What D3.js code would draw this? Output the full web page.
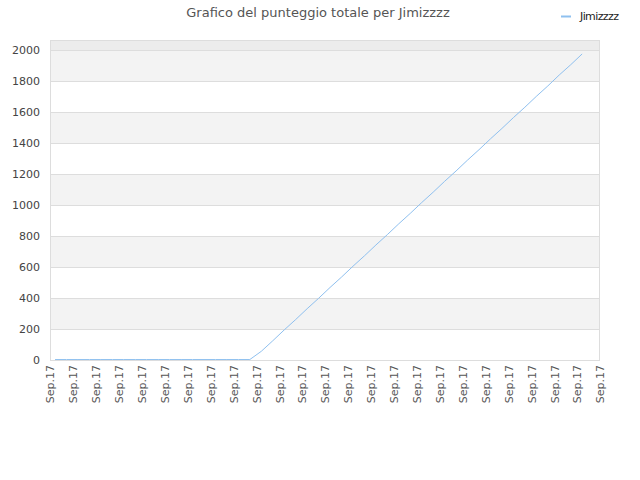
<!DOCTYPE html>
<html>
<head>
<meta charset="utf-8">
<script src="https://cdn.jsdelivr.net/npm/d3@7"></script>
<style>
	body { margin: 0; background: #fff; }
	svg { font-family: "DejaVu Sans", sans-serif; }
</style>
</head>
<body>
<div id="chart"></div>
<script>
'use strict';

const TITLE = "Grafico del punteggio totale per Jimizzzz";
const SERIES_NAME = "Jimizzzz";

// 25 date labels along the x axis
const tickLabels = [
	"Sep.17", "Sep.17", "Sep.17", "Sep.17", "Sep.17", "Sep.17", "Sep.17", "Sep.17", "Sep.17",
	"Sep.17", "Sep.17", "Sep.17", "Sep.17", "Sep.17", "Sep.17", "Sep.17", "Sep.17", "Sep.17",
	"Sep.17", "Sep.17", "Sep.17", "Sep.17", "Sep.17", "Sep.17", "Sep.17"
];
const yTicks = [0, 200, 400, 600, 800, 1000, 1200, 1400, 1600, 1800, 2000];

// total score, sampled every half label step
const scores = [
	3, 3, 3, 3, 3, 3, 3, 3, 3, 3, 3, 3, 3, 3, 3, 3, 3, 3,
	56, 124, 194, 261, 331, 398, 468, 535, 605, 672, 742, 809, 879, 946,
	1016, 1083, 1153, 1220, 1290, 1357, 1427, 1494, 1564, 1631, 1701, 1768, 1839, 1905, 1975
];
const FIRST_POS = 0.22;
const POS_STEP = 0.5;

const W = 640, H = 480;
const margin = {top: 40, right: 40, bottom: 120, left: 50};

const svg = d3.select("#chart").append("svg")
	.attr("width", W)
	.attr("height", H);

const x = d3.scaleLinear()
	.domain([0, tickLabels.length - 1])
	.range([margin.left, W - margin.right]);

const y = d3.scaleLinear()
	.domain([0, 2065])
	.range([H - margin.bottom, margin.top]);

// background bands
const plotW = x.range()[1] - x.range()[0];
svg.append("rect")
	.attr("x", margin.left).attr("y", margin.top)
	.attr("width", plotW).attr("height", y(2000) - margin.top)
	.attr("fill", "#ececec");
for (let i = 0; i < yTicks.length - 1; i++) {
	svg.append("rect")
		.attr("x", margin.left)
		.attr("y", y(yTicks[i + 1]))
		.attr("width", plotW)
		.attr("height", y(yTicks[i]) - y(yTicks[i + 1]))
		.attr("fill", i % 2 === 1 ? "#f3f3f3" : "#ffffff");
}

// grid lines
svg.append("g")
	.selectAll("line")
	.data(yTicks)
	.join("line")
		.attr("x1", margin.left)
		.attr("x2", W - margin.right)
		.attr("y1", d => Math.round(y(d)) + 0.5)
		.attr("y2", d => Math.round(y(d)) + 0.5)
		.attr("stroke", "#dddddd");

// plot border
svg.append("rect")
	.attr("x", margin.left + 0.5)
	.attr("y", margin.top + 0.5)
	.attr("width", plotW - 1)
	.attr("height", y(0) - margin.top)
	.attr("fill", "none")
	.attr("stroke", "#dddddd");

// y axis
const yAxis = svg.append("g")
	.attr("transform", `translate(${margin.left},0)`)
	.call(d3.axisLeft(y).tickValues(yTicks).tickFormat(d3.format("d")).tickSize(0).tickPadding(10));
yAxis.select(".domain").remove();
yAxis.selectAll("text")
	.attr("font-size", 11)
	.attr("font-family", "DejaVu Sans, sans-serif")
	.attr("fill", "#444");

// x axis
const xAxis = svg.append("g")
	.attr("transform", `translate(0,${y(0)})`)
	.call(d3.axisBottom(x)
		.tickValues(d3.range(tickLabels.length))
		.tickFormat(i => tickLabels[i])
		.tickSize(0));
xAxis.select(".domain").remove();
xAxis.selectAll("text")
	.attr("font-size", 11)
	.attr("font-family", "DejaVu Sans, sans-serif")
	.attr("fill", "#555")
	.attr("text-anchor", "end")
	.attr("transform", "rotate(-90)")
	.attr("x", -5)
	.attr("y", 0)
	.attr("dy", "0.35em");

// the series
const line = d3.line()
	.x((d, i) => x(FIRST_POS + i * POS_STEP))
	.y(d => y(d));

svg.append("path")
	.datum(scores)
	.attr("fill", "none")
	.attr("stroke", "#8fc0ef")
	.attr("stroke-width", 1)
	.attr("d", line);

// title
svg.append("text")
	.attr("x", 318)
	.attr("y", 17)
	.attr("text-anchor", "middle")
	.attr("font-size", 13)
	.attr("fill", "#555")
	.text(TITLE);

// legend
svg.append("line")
	.attr("x1", 561).attr("x2", 571)
	.attr("y1", 16.5).attr("y2", 16.5)
	.attr("stroke", "#8fc0ef")
	.attr("stroke-width", 2);
svg.append("text")
	.attr("x", 580)
	.attr("y", 20)
	.attr("font-size", 11)
	.attr("fill", "#222")
	.attr("letter-spacing", -0.6)
	.text(SERIES_NAME);
</script>
</body>
</html>
